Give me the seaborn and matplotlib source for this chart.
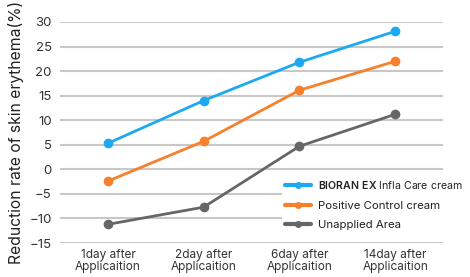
import matplotlib
matplotlib.use("Agg")
import matplotlib.pyplot as plt
import seaborn as sns
import pandas as pd

categories = ["1day after\nApplicaition", "2day after\nApplicaition",
              "6day after\nApplicaition", "14day after\nApplicaition"]
series_names = ["$\\bf{BIORAN\\ EX}$ Infla Care cream",
                "Positive Control cream", "Unapplied Area"]
bioran = [5.3, 14.0, 21.8, 28.1]
positive = [-2.4, 5.7, 16.1, 22.0]
unapplied = [-11.2, -7.7, 4.7, 11.2]
yticks = [-15, -10, -5, 0, 5, 10, 15, 20, 25, 30]
colors = ["#1DA9F2", "#F7802B", "#666666"]

sns.set_style("white")
plt.rcParams["font.family"] = ["Inter", "DejaVu Sans"]
plt.rcParams["mathtext.fontset"] = "custom"
plt.rcParams["mathtext.bf"] = "Inter:semibold"
plt.rcParams["mathtext.rm"] = "Inter"

rows = []
for name, vals in zip(series_names, [bioran, positive, unapplied]):
    for i, v in enumerate(vals):
        rows.append({"x": i, "value": v, "series": name})
df = pd.DataFrame(rows)

fig = plt.figure(figsize=(4.7, 2.77), dpi=100)
ax = fig.add_axes([0.1277, 0.1227, 0.9426 - 0.1277, 0.9206 - 0.1227])

sns.lineplot(data=df, x="x", y="value", hue="series", palette=colors,
             marker="o", markersize=7, markeredgewidth=0, linewidth=2,
             ax=ax, legend=True, clip_on=False)

ax.set_xlim(-0.5, 3.5)
ax.set_ylim(-15, 30)
ax.set_yticks(yticks)
ax.set_xticks(range(len(categories)))
ax.set_xticklabels(categories, fontsize=8.5, color="#333333", linespacing=1.1)
ax.tick_params(axis="y", labelsize=9.5, labelcolor="#333333", length=0, pad=6)
ax.tick_params(axis="x", length=0, pad=4)
ax.yaxis.grid(True, color="#c8c8c8", linewidth=1.5)
ax.xaxis.grid(False)
ax.set_axisbelow(True)
for s in ax.spines.values():
    s.set_visible(False)
ax.set_xlabel("")
ax.set_ylabel("Reduction rate of skin erythema(%)", fontsize=11.3, color="#222222", labelpad=4)

leg = ax.legend(loc="upper left", bbox_to_anchor=(0.579, 0.305), frameon=True,
                framealpha=1, edgecolor="white", facecolor="white",
                fontsize=8.2, handlelength=2.3, handletextpad=0.6,
                labelspacing=0.85, borderpad=0.3, borderaxespad=0)
texts = leg.get_texts()
for t in texts:
    t.set_color("#222222")
texts[0].set_fontsize(7.6)
for h in leg.legend_handles:
    h.set_markersize(5)
    h.set_linewidth(3)
leg.get_frame().set_linewidth(0)

fig.savefig("out.png", dpi=100)
